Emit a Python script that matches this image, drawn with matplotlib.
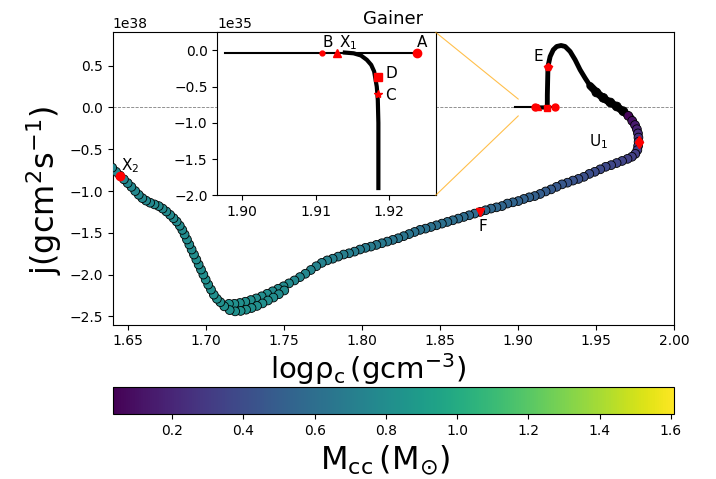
import numpy as np
import matplotlib.pyplot as plt
from matplotlib.patches import ConnectionPatch

# early part of the track (j in units of 1e35): flat branch and the dip
flat_rho = [1.8977, 1.9030, 1.9080, 1.9130, 1.9180, 1.9238]
flat_j = [-0.03, -0.03, -0.03, -0.03, -0.03, -0.03]
dip_rho = [1.9140, 1.9152, 1.9162, 1.9170, 1.9176, 1.9180, 1.91836, 1.9185, 1.91858, 1.91858, 1.91858]
dip_j = [-0.03, -0.04, -0.07, -0.13, -0.20, -0.29, -0.50, -0.68, -1.00, -1.50, -1.90]

# rise to positive j and the loop down to U1 (j in units of 1e38), no convective core
rise_rho = [1.91858, 1.9186, 1.9188, 1.9190, 1.9204, 1.9224, 1.9246, 1.9274, 1.9300, 1.9332,
            1.9364, 1.9396, 1.9428, 1.9460, 1.9503, 1.9545, 1.9588, 1.9631, 1.9673, 1.9716,
            1.9748, 1.9763]
rise_j = [0.0, 0.15, 0.32, 0.49, 0.61, 0.69, 0.73, 0.742, 0.73, 0.67,
          0.571, 0.451, 0.352, 0.26, 0.179, 0.112, 0.06, 0.012, -0.048, -0.115,
          -0.207, -0.287]

# models with a convective core (j in units of 1e38), coloured by M_cc
core_rho = [
    1.9500, 1.9545, 1.9590, 1.9631, 1.9673, 1.9705, 1.9730, 1.9748, 1.9760, 1.9767,
    1.9770, 1.9771, 1.9768, 1.9763, 1.9750, 1.9728, 1.9700, 1.9665, 1.9630, 1.9595,
    1.9560, 1.9525, 1.9490, 1.9455, 1.9420, 1.9385, 1.9350, 1.9315, 1.9280, 1.9245,
    1.9210, 1.9175, 1.9140, 1.9105, 1.9070, 1.9035, 1.9000, 1.8965, 1.8930, 1.8895,
    1.8860, 1.8825, 1.8790, 1.8755, 1.8720, 1.8685, 1.8650, 1.8615, 1.8580, 1.8545,
    1.8510, 1.8475, 1.8440, 1.8405, 1.8370, 1.8335, 1.8300, 1.8265, 1.8230, 1.8195,
    1.8160, 1.8125, 1.8090, 1.8055, 1.8020, 1.7985, 1.7950, 1.7915, 1.7880, 1.7845,
    1.7810, 1.7775, 1.7740, 1.7705, 1.7670, 1.7635, 1.7600, 1.7565, 1.7530,
    1.7495, 1.7460, 1.7425, 1.7390, 1.7355, 1.7320, 1.7285, 1.7250, 1.7215, 1.7180, 1.7145,
    1.7500, 1.7465, 1.7430, 1.7395, 1.7360, 1.7325, 1.7290, 1.7255, 1.7220, 1.7185, 1.7150,
    1.7115, 1.7090, 1.7068, 1.7048, 1.7030, 1.7012, 1.6996, 1.6981, 1.6966, 1.6951,
    1.6936, 1.6921, 1.6906, 1.6891, 1.6876, 1.6861, 1.6846, 1.6830, 1.6810, 1.6790,
    1.6768, 1.6744, 1.6720, 1.6695, 1.6668, 1.6640, 1.6614, 1.6590, 1.6567, 1.6544,
    1.6520, 1.6496, 1.6472, 1.6447, 1.6422, 1.6397, 1.6372]
core_j = [
    0.18, 0.115, 0.06, 0.012, -0.045, -0.10, -0.16, -0.21, -0.26, -0.31,
    -0.36, -0.41, -0.46, -0.51, -0.555, -0.59, -0.615, -0.64, -0.665, -0.69,
    -0.71, -0.74, -0.77, -0.795, -0.83, -0.855, -0.875, -0.90, -0.92, -0.95,
    -0.98, -1.005, -1.035, -1.06, -1.075, -1.095, -1.12, -1.135, -1.15, -1.18,
    -1.195, -1.21, -1.23, -1.25, -1.27, -1.29, -1.31, -1.33, -1.35, -1.37,
    -1.39, -1.41, -1.43, -1.45, -1.465, -1.49, -1.515, -1.54, -1.565, -1.585,
    -1.605, -1.625, -1.645, -1.665, -1.68, -1.70, -1.725, -1.745, -1.76, -1.785,
    -1.81, -1.83, -1.86, -1.90, -1.945, -1.99, -2.03, -2.07, -2.105,
    -2.14, -2.17, -2.20, -2.23, -2.26, -2.285, -2.305, -2.325, -2.34, -2.35, -2.35,
    -2.19, -2.235, -2.275, -2.31, -2.345, -2.375, -2.40, -2.42, -2.435, -2.44, -2.425,
    -2.38, -2.33, -2.29, -2.24, -2.18, -2.12, -2.06, -2.00, -1.94, -1.88,
    -1.82, -1.76, -1.70, -1.64, -1.58, -1.52, -1.465, -1.415, -1.365, -1.325,
    -1.285, -1.245, -1.21, -1.18, -1.16, -1.14, -1.115, -1.085, -1.045, -1.00,
    -0.95, -0.905, -0.86, -0.815, -0.77, -0.72, -0.67]
core_mcc = [
    0.0, 0.0, 0.0, 0.0, 0.0, 0.06, 0.10, 0.14, 0.18, 0.22,
    0.25, 0.28, 0.30, 0.31, 0.32, 0.33, 0.34, 0.35, 0.36, 0.37,
    0.38, 0.39, 0.40, 0.41, 0.42, 0.43, 0.44, 0.45, 0.46, 0.47,
    0.48, 0.49, 0.50, 0.51, 0.52, 0.52, 0.53, 0.54, 0.54, 0.55,
    0.56, 0.56, 0.57, 0.57, 0.58, 0.58, 0.59, 0.59, 0.60, 0.60,
    0.61, 0.61, 0.62, 0.62, 0.63, 0.63, 0.64, 0.64, 0.65, 0.65,
    0.66, 0.67, 0.67, 0.68, 0.68, 0.69, 0.69, 0.70, 0.71, 0.71,
    0.72, 0.73, 0.73, 0.74, 0.75, 0.76, 0.76, 0.77, 0.78,
    0.78, 0.79, 0.79, 0.80, 0.80, 0.80, 0.81, 0.81, 0.81, 0.82, 0.82,
    0.79, 0.79, 0.80, 0.80, 0.81, 0.81, 0.81, 0.82, 0.82, 0.82, 0.82,
    0.82, 0.82, 0.82, 0.81, 0.81, 0.81, 0.81, 0.80, 0.80, 0.80,
    0.80, 0.80, 0.79, 0.79, 0.79, 0.79, 0.79, 0.79, 0.78, 0.78,
    0.78, 0.78, 0.78, 0.78, 0.78, 0.77, 0.77, 0.77, 0.77, 0.77,
    0.77, 0.77, 0.76, 0.76, 0.76, 0.76, 0.76]

# labelled models: early ones (j in 1e35) and late ones (j in 1e38)
early_names = ['A', 'B', r'X$_1$', 'C', 'D']
early_rho = [1.9238, 1.9109, 1.9129, 1.91858, 1.91858]
early_jval = [-0.03, -0.03, -0.03, -0.60, -0.37]
early_marks = ['o', 'o', '^', '*', 's']
late_names = ['E', r'U$_1$', 'F', r'X$_2$']
late_rho = [1.9190, 1.9771, 1.8757, 1.6447]
late_jval = [0.49, -0.41, -1.245, -0.815]
late_marks = ['p', 'd', 'v', 'o']

cmap = plt.get_cmap('viridis').copy()
cmap.set_under('black')

fig = plt.figure(figsize=(7.16, 4.79), dpi=100)
ax = fig.add_axes([0.1574, 0.3221, 0.7844, 0.6105])
axins = fig.add_axes([0.3035, 0.5923, 0.3050, 0.3403])
cax = fig.add_axes([0.1574, 0.1357, 0.7844, 0.0564])

ax.axhline(0, color='gray', ls='--', lw=0.6)
ax.plot(flat_rho, np.array(flat_j) * 1e35, 'k-', lw=1.5)
ax.plot(dip_rho, np.array(dip_j) * 1e35, 'k-', lw=3)
rise = np.array(rise_j) * 1e38
ax.plot(rise_rho[:14], rise[:14], 'k-', lw=3.5, solid_capstyle='round')
ax.plot(rise_rho[13:], rise[13:], 'k-', lw=5.5, solid_capstyle='round')
sc = ax.scatter(core_rho, np.array(core_j) * 1e38, c=core_mcc, cmap=cmap, vmin=0.033, vmax=1.61,
                s=40, edgecolors='k', linewidths=0.6, zorder=3)

for rho, jv, m in zip(early_rho, early_jval, early_marks):
    ax.plot(rho, jv * 1e35, marker=m, color='red', ms=5, zorder=4)
for name, rho, jv, m in zip(late_names, late_rho, late_jval, late_marks):
    ax.plot(rho, jv * 1e38, marker=m, color='red', ms=6, zorder=4)

late_offsets = [(-7, 7), (-29, 0), (1.5, -11), (7, 7)]
for name, rho, jv, off in zip(late_names, late_rho, late_jval, late_offsets):
    ax.annotate(name, (rho, jv * 1e38), xytext=off, textcoords='offset points',
                fontsize=11, ha='center', va='center')

ax.set_xlim(1.64, 2.0)
ax.set_ylim(-2.6e38, 0.9e38)
ax.set_title('Gainer', fontsize=13)
ax.set_xlabel(r'$\mathrm{log\rho_c\,(gcm^{-3})}$', fontsize=21, labelpad=2)
ax.set_ylabel(r'$\mathrm{j(gcm^{2}s^{-1})}$', fontsize=23)
ax.xaxis.label.set_x(0.455)
ax.yaxis.label.set_y(0.46)

# zoom on the early track
axins.plot(flat_rho, np.array(flat_j) * 1e35, 'k-', lw=1.5)
axins.plot(dip_rho, np.array(dip_j) * 1e35, 'k-', lw=3)
offsets = [(4, 7.5), (4, 7.5), (8, 7.5), (9, -1), (9, 3)]
sizes = [6, 3.5, 6, 6, 5.5]
for name, rho, jv, m, off, ms in zip(early_names, early_rho, early_jval, early_marks, offsets, sizes):
    axins.plot(rho, jv * 1e35, marker=m, color='red', ms=ms, zorder=4)
    axins.annotate(name, (rho, jv * 1e35), xytext=off, textcoords='offset points',
                   fontsize=11, ha='center', va='center')
axins.set_xlim(1.8966, 1.9264)
axins.set_ylim(-2.0e35, 0.25e35)
axins.set_xticks([1.90, 1.91, 1.92])

for yi, yc in [(1, 0.1e38), (0, -0.1e38)]:
    con = ConnectionPatch(xyA=(1, yi), coordsA=axins.transAxes, xyB=(1.90, yc), coordsB=ax.transData,
                          color='orange', lw=0.8, alpha=0.7)
    fig.add_artist(con)

cb = fig.colorbar(sc, cax=cax, orientation='horizontal')
cb.set_label(r'$\mathrm{M_{cc}\,(M_{\odot})}$', fontsize=23)
cb.ax.xaxis.label.set_x(0.485)

fig.savefig('out.png', dpi=100)
